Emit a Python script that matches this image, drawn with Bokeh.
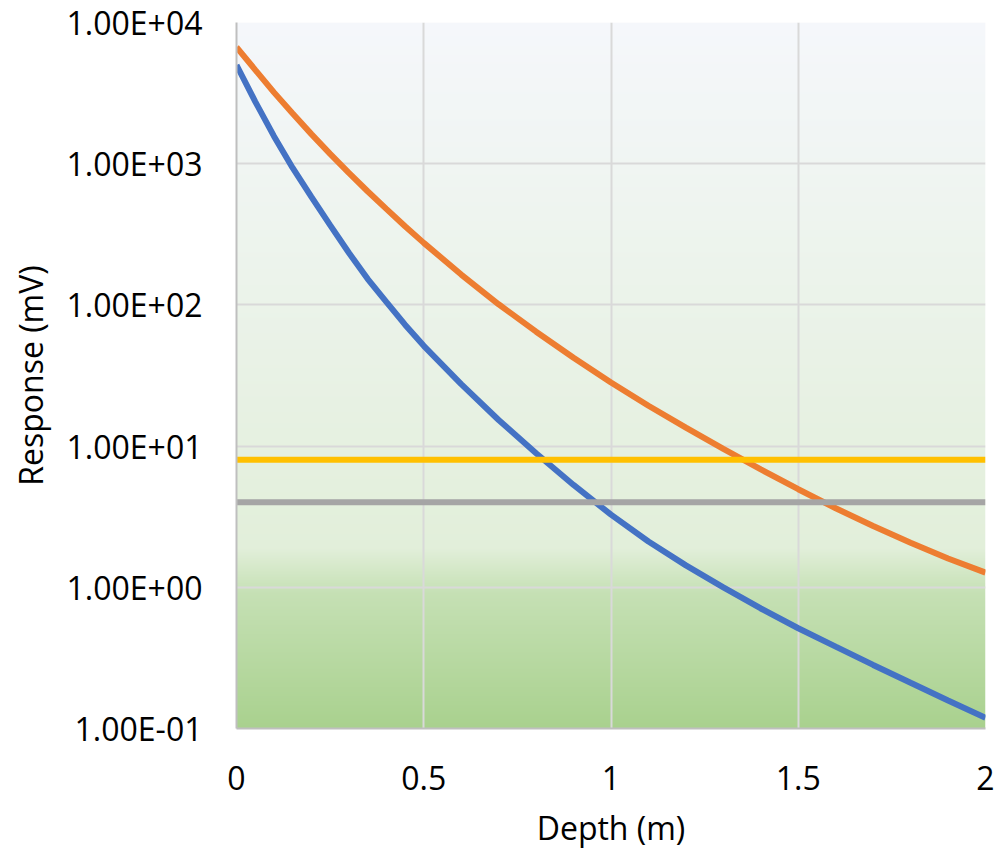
import numpy as np
from bokeh.plotting import figure
from bokeh.models import FixedTicker, Range1d
from bokeh.embed import file_html
from bokeh.resources import INLINE

# ---- data ----
depth = [0, 0.05, 0.1, 0.15, 0.2, 0.25, 0.3, 0.35, 0.4, 0.45, 0.5, 0.6, 0.7, 0.8, 0.9,
         1.0, 1.1, 1.2, 1.3, 1.4, 1.5, 1.6, 1.7, 1.8, 1.9, 2.0]
response_blue = [5000, 2754, 1567, 933, 582, 367, 234, 153, 105, 72.4, 51.3, 27.5, 15.3,
                 8.91, 5.31, 3.27, 2.11, 1.43, 1.00, 0.708, 0.513, 0.380, 0.282,
                 0.211, 0.158, 0.119]
response_orange = [6680, 4620, 3200, 2265, 1620, 1175, 861, 638, 479, 361, 275, 164, 101,
                   64.6, 42.2, 28.2, 19.3, 13.5, 9.55, 6.84, 4.95, 3.63, 2.72, 2.07,
                   1.60, 1.27]
threshold_depth = [0, 2]
threshold_yellow = [8, 8]
threshold_gray = [4, 4]

x_ticks = [0, 0.5, 1, 1.5, 2]
x_tick_labels = ["0", "0.5", "1", "1.5", "2"]
y_ticks = [0.1, 1, 10, 100, 1000, 10000]
y_tick_labels = ["1.00E-01", "1.00E+00", "1.00E+01", "1.00E+02", "1.00E+03", "1.00E+04"]

FONT = "Open Sans"

p = figure(width=998, height=854, y_axis_type="log",
           x_range=Range1d(0, 2), y_range=Range1d(0.1, 10000),
           output_backend="svg", toolbar_location=None,
           min_border_left=236, min_border_right=13, min_border_top=22,
           min_border_bottom=126)
p.background_fill_color = "white"
p.border_fill_color = "white"
p.outline_line_color = None

# background gradient of the plot area
stops_pos = [0.0, 0.745, 0.81, 1.0]
stops_col = [(245, 247, 251), (226, 239, 218), (197, 224, 180), (169, 209, 142)]
n = 706
t = np.linspace(0, 1, n)
img = np.zeros((n, 1), dtype=np.uint32)
view = img.view(dtype=np.uint8).reshape((n, 1, 4))
for ch in range(3):
    view[:, 0, ch] = np.round(np.interp(t, stops_pos, [c[ch] for c in stops_col])).astype(np.uint8)
view[:, 0, 3] = 255
img = img[::-1].copy()
p.image_rgba(image=[img], x=0, y=0.1, dw=2, dh=10000 - 0.1, level="image")

# series
p.line(depth, response_blue, line_color="#4472c4", line_width=6)
p.line(depth, response_orange, line_color="#ed7d31", line_width=6)
p.line(threshold_depth, threshold_yellow, line_color="#ffc000", line_width=6)
p.line(threshold_depth, threshold_gray, line_color="#a5a5a5", line_width=6)

# axes
p.xaxis.ticker = FixedTicker(ticks=x_ticks)
p.xaxis.major_label_overrides = {float(k): v for k, v in zip(x_ticks, x_tick_labels)}
p.yaxis.ticker = FixedTicker(ticks=y_ticks)
p.yaxis.major_label_overrides = {float(k): v for k, v in zip(y_ticks, y_tick_labels)}

for ax in (p.xaxis, p.yaxis):
    ax.major_tick_line_color = None
    ax.minor_tick_line_color = None
    ax.major_tick_out = 0
    ax.major_tick_in = 0
    ax.axis_line_color = "#bfbfbf"
    ax.axis_line_width = 2
    ax.major_label_text_font = FONT
    ax.major_label_text_font_size = "32px"
    ax.major_label_text_color = "#000000"
    ax.axis_label_text_font = FONT
    ax.axis_label_text_font_size = "32px"
    ax.axis_label_text_font_style = "normal"
    ax.axis_label_text_color = "#000000"

p.xaxis.axis_label = "Depth (m)"
p.yaxis.axis_label = "Response (mV)"
p.xaxis.major_label_standoff = 37
p.xaxis.axis_label_standoff = 13
p.yaxis.major_label_standoff = 34
p.yaxis.axis_label_standoff = 12

p.xgrid.grid_line_color = "#d9d9d9"
p.xgrid.grid_line_width = 2
p.ygrid.grid_line_color = "#d9d9d9"
p.ygrid.grid_line_width = 2
p.ygrid.minor_grid_line_color = None

open("out.html", "w").write(file_html(p, INLINE))
